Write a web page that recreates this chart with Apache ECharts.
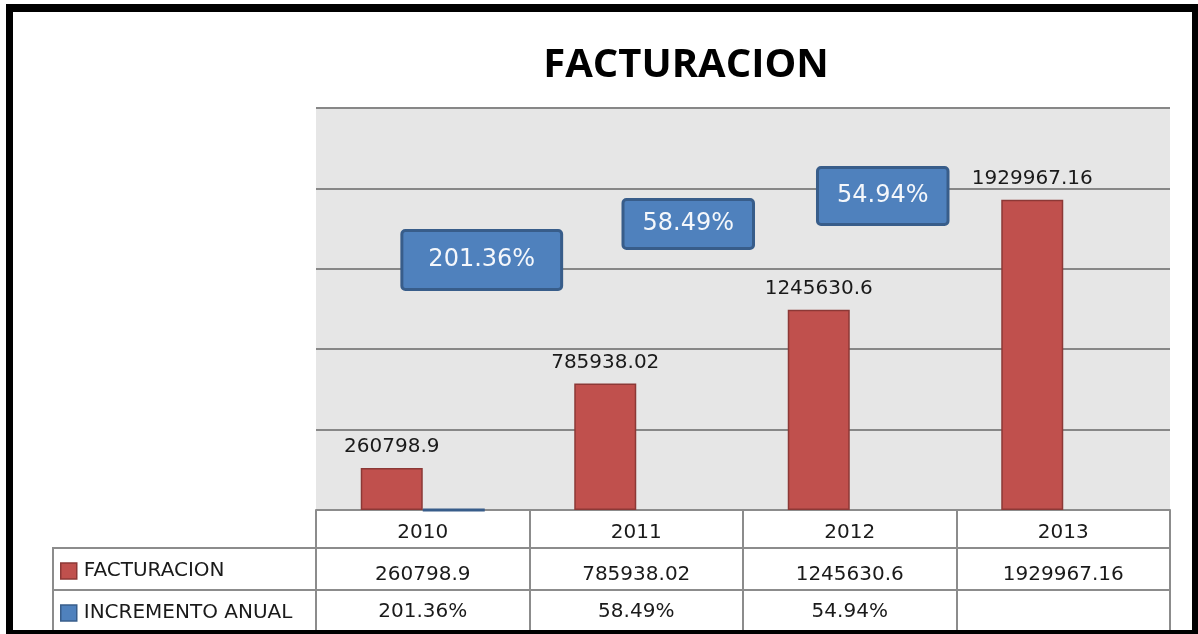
<!DOCTYPE html>
<html>
<head>
<meta charset="utf-8">
<script src="https://cdn.jsdelivr.net/npm/echarts@6/dist/echarts.min.js"></script>
<style>
  html, body { margin: 0; padding: 0; background: #fff; }
  #chart { position: absolute; left: 0; top: 0; width: 1198px; height: 634px; }
  #frame {
    position: absolute; left: 6px; top: 4px; width: 1192px; height: 630px;
    box-sizing: border-box; border: solid #000; border-width: 8px 6px 4px 7px;
    pointer-events: none;
  }
</style>
</head>
<body>
<div id="chart"></div>
<div id="frame"></div>
<script>
const years = ['2010', '2011', '2012', '2013']
const facturacion = [260798.9, 785938.02, 1245630.6, 1929967.16]
const incremento = [2.0136, 0.5849, 0.5494, null]
const yMin = 0
const yMax = 2500000
const yStep = 500000

// callout boxes for the yearly increase were dragged by hand in the original
const calloutOffset = [[28, -250], [21, -286], [2, -314]]
const calloutPadding = [[16, 25], [11, 18], [15, 18]]

const fmtPct = v => (v == null ? '' : (v * 100).toFixed(2) + '%')

const tableLine = { color: '#8C8C8C', width: 2 }
const cellText = { fontFamily: 'DejaVu Sans', fontSize: 20, color: '#1A1A1A' }

const chart = echarts.init(document.getElementById('chart'))

const tableAxis = (data, offset, tickLen, margin) => ({
  type: 'category',
  data,
  position: 'bottom',
  offset,
  axisLine: { lineStyle: tableLine },
  axisTick: { show: true, interval: 0, length: tickLen, lineStyle: tableLine },
  axisLabel: { ...cellText, interval: 0, margin },
  axisPointer: { show: false }
})

const option = {
  animation: false,
  title: {
    text: 'FACTURACION',
    left: 681,
    top: 41,
    textAlign: 'center',
    textStyle: { fontFamily: 'Open Sans', fontWeight: 'bold', fontSize: 40, color: '#000' }
  },
  legend: {
    orient: 'vertical',
    left: 60,
    top: 561,
    padding: 0,
    itemGap: 22,
    itemWidth: 16,
    itemHeight: 16,
    icon: 'rect',
    selectedMode: false,
    textStyle: { fontFamily: 'DejaVu Sans', fontSize: 20, color: '#1A1A1A', padding: [0, 0, 0, 2] },
    data: [
      { name: 'FACTURACION', itemStyle: { borderColor: '#8C3836', borderWidth: 1.5 } },
      { name: 'INCREMENTO ANUAL', itemStyle: { borderColor: '#385D8A', borderWidth: 1.5 } }
    ]
  },
  grid: { left: 316, right: 28, top: 108, bottom: 124, show: true, backgroundColor: '#E6E6E6', borderWidth: 0 },
  xAxis: [
    tableAxis(years, 0, 38, 13),
    tableAxis(facturacion.map(String), 38, 42, 17),
    tableAxis(incremento.map(fmtPct), 80, 50, 12)
  ],
  yAxis: {
    type: 'value',
    min: yMin,
    max: yMax,
    interval: yStep,
    axisLabel: { show: false },
    axisLine: { show: false },
    axisTick: { show: false },
    splitLine: { lineStyle: { color: '#878787', width: 2 } }
  },
  graphic: [
    { type: 'rect', shape: { x: 53, y: 548, width: 263, height: 100 }, style: { fill: 'none', stroke: '#8C8C8C', lineWidth: 2 }, z: 1 },
    { type: 'line', shape: { x1: 53, y1: 590, x2: 316, y2: 590 }, style: { stroke: '#8C8C8C', lineWidth: 2 }, z: 1 }
  ],
  series: [
    {
      name: 'FACTURACION',
      type: 'bar',
      xAxisIndex: 0,
      barWidth: 62,
      barGap: '0%',
      data: facturacion,
      itemStyle: { color: '#C0504D', borderColor: '#8C3836', borderWidth: 1.5 },
      label: { show: true, position: 'top', distance: 11, ...cellText }
    },
    {
      name: 'INCREMENTO ANUAL',
      type: 'bar',
      xAxisIndex: 0,
      barWidth: 62,
      data: incremento.map((v, i) => v == null ? null : {
        value: v,
        itemStyle: { borderWidth: i === 0 ? 3 : 0 },
        label: { offset: calloutOffset[i], padding: calloutPadding[i] }
      }),
      itemStyle: { color: '#4F81BD', borderColor: '#385D8A', borderWidth: 0 },
      label: {
        show: true,
        position: 'inside',
        formatter: p => fmtPct(p.value),
        fontFamily: 'DejaVu Sans',
        fontSize: 24,
        color: '#F4F7FB',
        backgroundColor: '#4F81BD',
        borderColor: '#385D8A',
        borderWidth: 3,
        borderRadius: 2
      }
    }
  ]
}

chart.setOption(option)
</script>
</body>
</html>
